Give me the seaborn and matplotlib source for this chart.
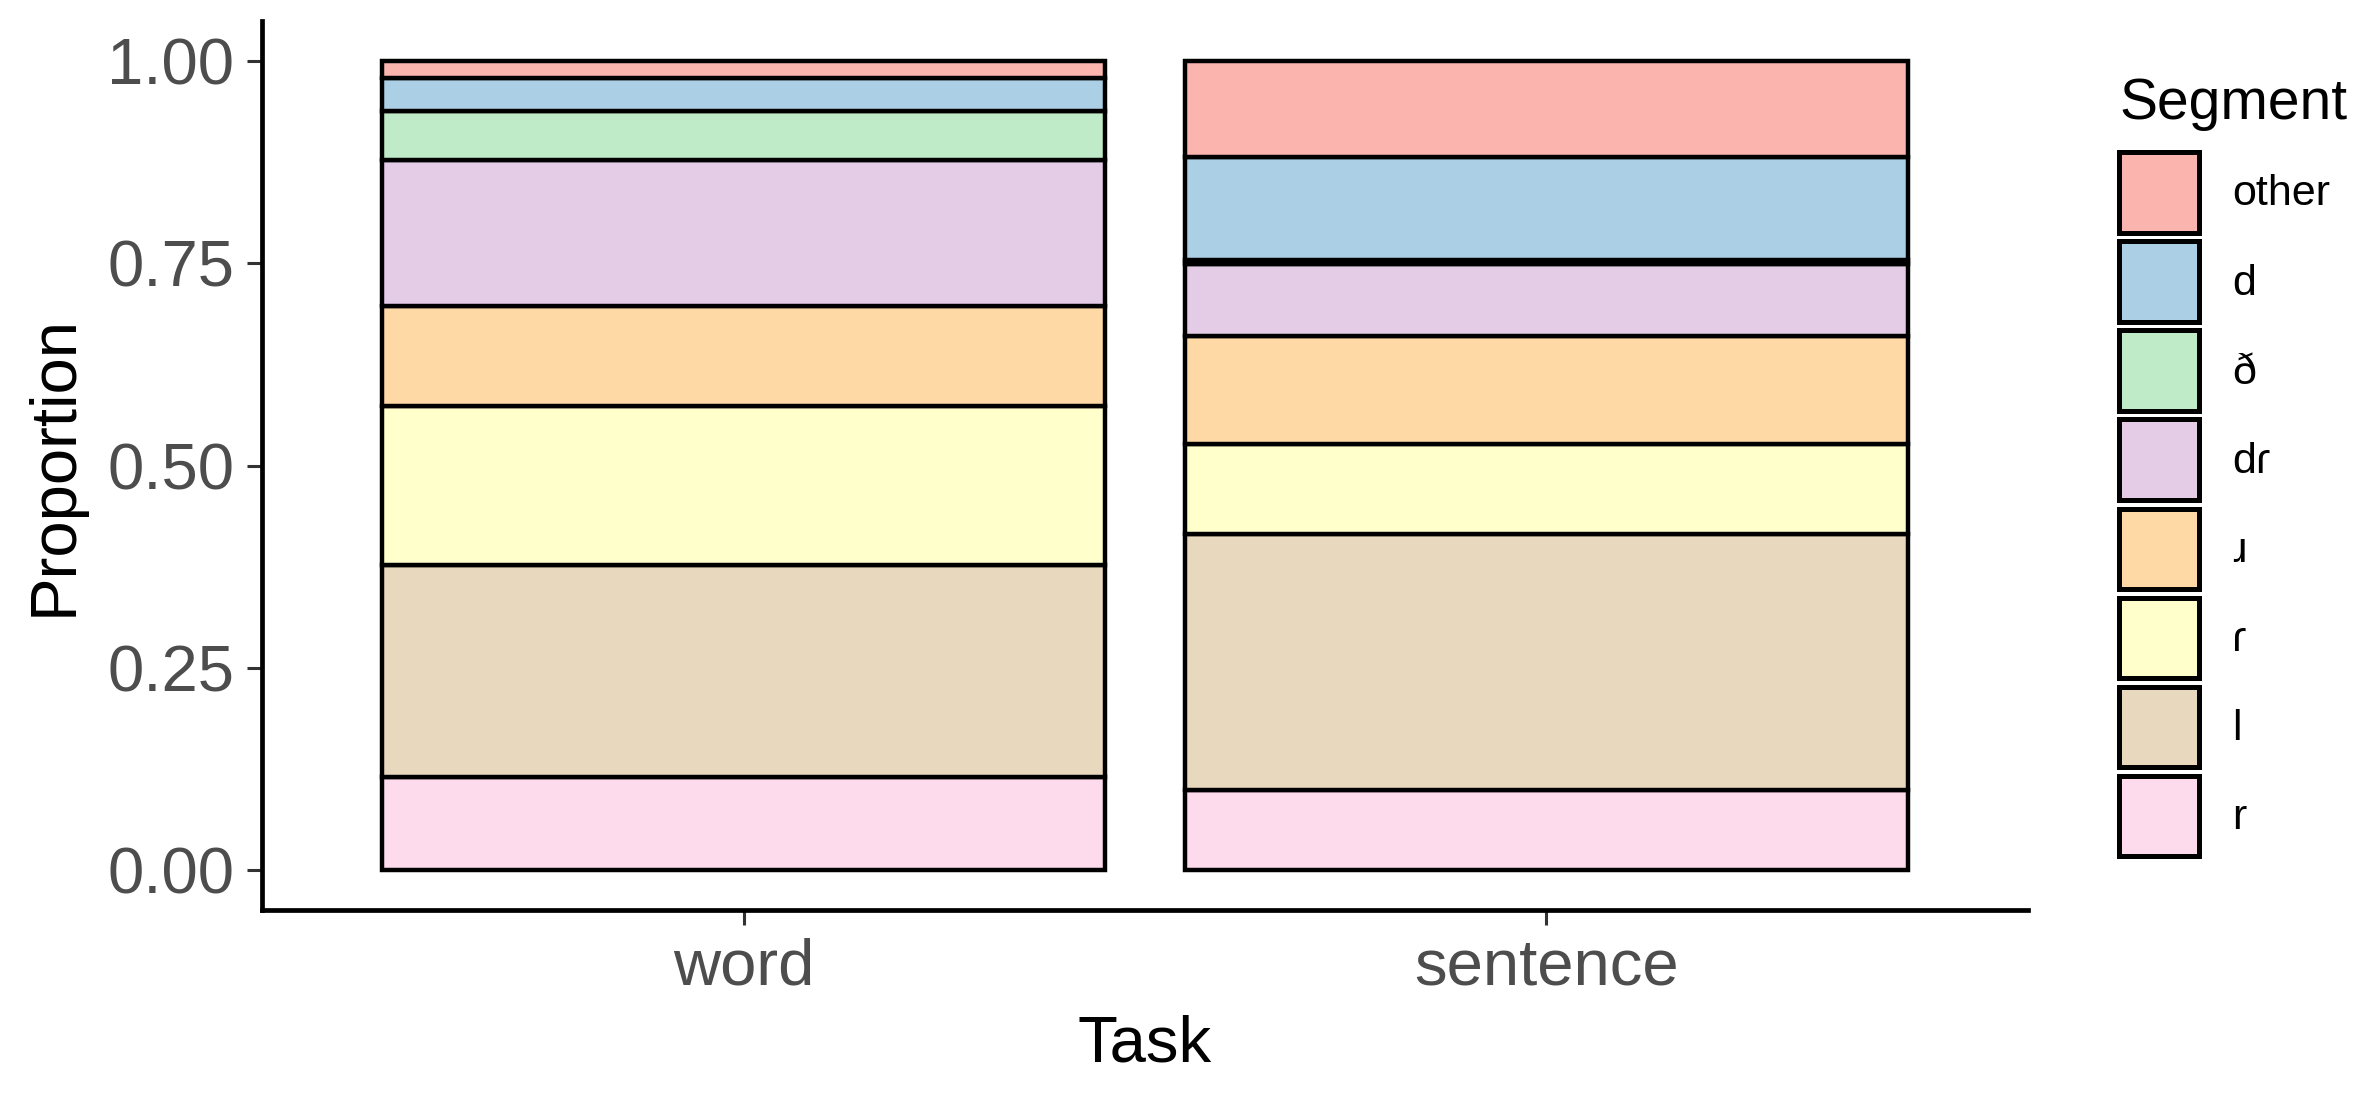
import matplotlib
matplotlib.use('Agg')
import matplotlib.pyplot as plt
from matplotlib.patches import Patch
import pandas as pd
import seaborn as sns

sns.set_style('white')
plt.rcParams['font.family'] = ['Liberation Sans', 'DejaVu Sans']
plt.rcParams['text.color'] = 'black'
plt.rcParams['axes.labelcolor'] = 'black'

# proportions (bottom to top: r ... other)
tasks = ['word', 'sentence']
segments = ['other', 'd', 'ð', 'dɾ', 'ɹ', 'ɾ', 'l', 'r']
word_props = [0.021, 0.040, 0.061, 0.180, 0.124, 0.197, 0.262, 0.115]
sentence_props = [0.118, 0.128, 0.005, 0.089, 0.133, 0.112, 0.317, 0.098]
seg_colors = ['#FBB4AE', '#ABCFE5', '#C0EBC8', '#E5CCE6', '#FED9A6', '#FFFFCC', '#E8D9BE', '#FDDAEC']

rows = []
for t, props in zip(tasks, [word_props, sentence_props]):
    for s, p in zip(segments, props):
        rows.append({'Task': t, 'Segment': s, 'Proportion': p})
df = pd.DataFrame(rows)
pal = dict(zip(segments, seg_colors))

fig = plt.figure(figsize=(23.77, 10.95), dpi=100)
ax = fig.add_axes([0.1102, 0.1689, 0.7430, 0.8119])

sns.histplot(data=df, x='Task', weights='Proportion', hue='Segment',
             hue_order=segments, palette=pal, multiple='stack', discrete=True,
             shrink=0.9, alpha=1, edgecolor='black', linewidth=3.2,
             legend=False, ax=ax)

ax.set_xlim(-0.6, 1.6)
ax.set_ylim(-0.05, 1.05)
ax.set_yticks([0, 0.25, 0.5, 0.75, 1.0])
ax.set_yticklabels(['0.00', '0.25', '0.50', '0.75', '1.00'])
ax.set_xticks([0, 1])
ax.set_xticklabels(tasks)
ax.tick_params(axis='both', labelsize=47, labelcolor='#4D4D4D', color='#333333',
               length=11, width=2.2, pad=9, left=True, bottom=True)
ax.set_xlabel('Task', fontsize=47, labelpad=12)
ax.set_ylabel('Proportion', fontsize=47, labelpad=16)
for sp in ['top', 'right']:
    ax.spines[sp].set_visible(False)
for sp in ['left', 'bottom']:
    ax.spines[sp].set_linewidth(3.4)
    ax.spines[sp].set_color('black')
ax.grid(False)

handles = [Patch(facecolor=pal[s], edgecolor='black', linewidth=3.6) for s in segments]
leg = fig.legend(handles, segments, title='Segment', loc='upper left',
                 bbox_to_anchor=(0.8915, 0.9295), frameon=False, fontsize=31,
                 title_fontsize=41, handlelength=1.86, handleheight=2.5,
                 labelspacing=0.2, handletextpad=0.76, borderpad=0,
                 borderaxespad=0, alignment='left')
leg._legend_box.sep = 15

fig.savefig('out.png', dpi=100)
